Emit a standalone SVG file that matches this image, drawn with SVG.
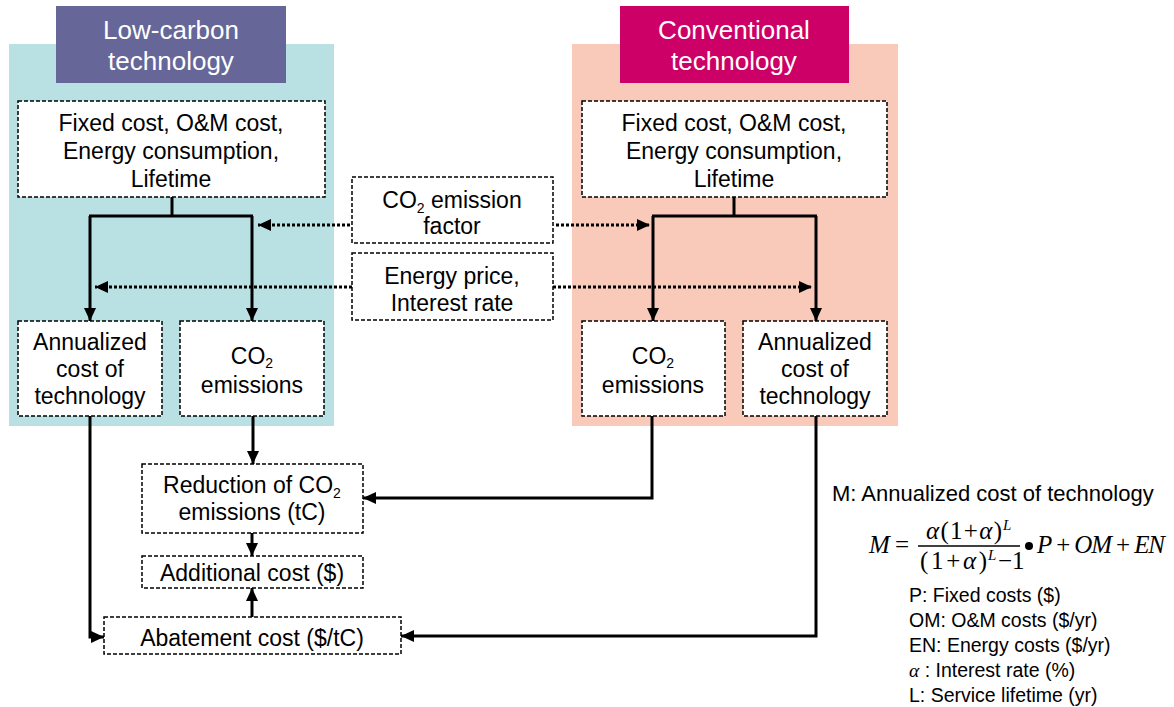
<svg xmlns="http://www.w3.org/2000/svg" width="1174" height="707" viewBox="0 0 1174 707">
<style>
text{font-family:"Liberation Sans",Arial,sans-serif;fill:#000;}
.t{font-size:23px;text-anchor:middle;}
.h{font-size:26px;text-anchor:middle;fill:#fff;}
.box{fill:#fff;stroke:#000;stroke-width:1.5;stroke-dasharray:4 2;}
.sol{fill:none;stroke:#000;stroke-width:3;}
.dot{fill:none;stroke:#000;stroke-width:3;stroke-dasharray:3 2;}
.sub{font-size:14px;}
.m{font-family:"Liberation Serif","Times New Roman",serif;font-size:25px;}
.i{font-style:italic;}
.leg{font-size:19.5px;}
</style>
<defs>
<marker id="ah" markerUnits="userSpaceOnUse" markerWidth="14" markerHeight="14" viewBox="0 0 14 14" refX="13" refY="7" orient="auto">
<path d="M0,1 L13,7 L0,13 Z" fill="#000"/>
</marker>
</defs>
<g id="panels">
<rect x="9" y="44" width="325" height="382" fill="#B9E0E2"/>
<rect x="572" y="44" width="326" height="382" fill="#F9C9B9"/>
</g>
<g id="title-low">
<rect x="56" y="6" width="230" height="77" fill="#666699"/>
<text class="h" x="171" y="39">Low-carbon</text>
<text class="h" x="171" y="70">technology</text>
</g>
<g id="title-conv">
<rect x="620" y="6" width="229" height="77" fill="#CC0066"/>
<text class="h" x="734" y="39">Conventional</text>
<text class="h" x="734" y="70">technology</text>
</g>
<g id="connectors">
<path class="sol" d="M172,197 V216 M89,216 H253"/>
<path class="sol" d="M90,216 V321" marker-end="url(#ah)"/>
<path class="sol" d="M252,216 V321" marker-end="url(#ah)"/>
<path class="sol" d="M734,197 V216 M652,216 H817"/>
<path class="sol" d="M653,216 V321" marker-end="url(#ah)"/>
<path class="sol" d="M816,216 V321" marker-end="url(#ah)"/>
<path class="dot" d="M350,225 H258" marker-end="url(#ah)"/>
<path class="dot" d="M556,225 H650" marker-end="url(#ah)"/>
<path class="dot" d="M352,287 H95" marker-end="url(#ah)"/>
<path class="dot" d="M553,287 H812" marker-end="url(#ah)"/>
<path class="sol" d="M90,416 V637 H104" marker-end="url(#ah)"/>
<path class="sol" d="M253,416 V464" marker-end="url(#ah)"/>
<path class="sol" d="M652,416 V498 H363" marker-end="url(#ah)"/>
<path class="sol" d="M816,416 V636 H401" marker-end="url(#ah)"/>
<path class="sol" d="M252,533 V556" marker-end="url(#ah)"/>
<path class="sol" d="M252,617 V588" marker-end="url(#ah)"/>
</g>
<g id="inputs-low">
<rect class="box" x="18" y="101" width="307" height="96"/>
<text class="t" x="171" y="131">Fixed cost, O&amp;M cost,</text>
<text class="t" x="171" y="159">Energy consumption,</text>
<text class="t" x="171" y="187">Lifetime</text>
</g>
<g id="inputs-conv">
<rect class="box" x="582" y="101" width="305" height="96"/>
<text class="t" x="734" y="131">Fixed cost, O&amp;M cost,</text>
<text class="t" x="734" y="159">Energy consumption,</text>
<text class="t" x="734" y="187">Lifetime</text>
</g>
<g id="co2-factor">
<rect class="box" x="352" y="177" width="201" height="66"/>
<text class="t" x="452" y="208">CO<tspan class="sub" dy="5">2</tspan><tspan dy="-5"> emission</tspan></text>
<text class="t" x="452" y="234">factor</text>
</g>
<g id="energy-price">
<rect class="box" x="352" y="253" width="201" height="67"/>
<text class="t" x="452" y="284">Energy price,</text>
<text class="t" x="452" y="311">Interest rate</text>
</g>
<g id="annual-low">
<rect class="box" x="18" y="321" width="144" height="95"/>
<text class="t" x="90" y="350">Annualized</text>
<text class="t" x="90" y="377">cost of</text>
<text class="t" x="90" y="404">technology</text>
</g>
<g id="co2-low">
<rect class="box" x="180" y="321" width="144" height="95"/>
<text class="t" x="252" y="364">CO<tspan class="sub" dy="4">2</tspan></text>
<text class="t" x="252" y="393">emissions</text>
</g>
<g id="co2-conv">
<rect class="box" x="582" y="321" width="143" height="95"/>
<text class="t" x="653" y="364">CO<tspan class="sub" dy="4">2</tspan></text>
<text class="t" x="653" y="393">emissions</text>
</g>
<g id="annual-conv">
<rect class="box" x="743" y="321" width="144" height="95"/>
<text class="t" x="815" y="350">Annualized</text>
<text class="t" x="815" y="377">cost of</text>
<text class="t" x="815" y="404">technology</text>
</g>
<g id="reduction">
<rect class="box" x="142" y="464" width="221" height="69"/>
<text class="t" x="252" y="493">Reduction of CO<tspan class="sub" dy="5">2</tspan></text>
<text class="t" x="252" y="520">emissions (tC)</text>
</g>
<g id="additional">
<rect class="box" x="142" y="556" width="221" height="32"/>
<text class="t" x="252" y="581">Additional cost ($)</text>
</g>
<g id="abatement">
<rect class="box" x="104" y="617" width="297" height="37"/>
<text class="t" x="252" y="646">Abatement cost ($/tC)</text>
</g>
<g id="formula">
<text x="832" y="501" style="font-size:22px">M: Annualized cost of technology</text>
<text class="m i" x="869" y="553">M</text>
<text class="m" x="895" y="553">=</text>
<text class="m" x="926" y="539" textLength="76" lengthAdjust="spacing"><tspan class="i">α</tspan>(1+<tspan class="i">α</tspan>)</text>
<text class="m i" x="1003" y="530" style="font-size:15px">L</text>
<line x1="918" y1="546" x2="1020" y2="546" stroke="#000" stroke-width="1.3"/>
<text class="m" x="920" y="569" textLength="67" lengthAdjust="spacing">(1+<tspan class="i">α</tspan>)</text>
<text class="m i" x="988" y="560" style="font-size:15px">L</text>
<text class="m" x="998" y="569">−1</text>
<circle cx="1029" cy="546" r="4"/>
<text class="m" x="1037" y="553" textLength="128" lengthAdjust="spacing"><tspan class="i">P</tspan> + <tspan class="i">OM</tspan> + <tspan class="i">EN</tspan></text>
<text class="leg" x="909" y="602">P: Fixed costs ($)</text>
<text class="leg" x="909" y="627">OM: O&amp;M costs ($/yr)</text>
<text class="leg" x="909" y="652">EN: Energy costs ($/yr)</text>
<text class="leg" x="909" y="677"><tspan class="m i" style="font-size:19.5px">α</tspan> : Interest rate (%)</text>
<text class="leg" x="909" y="702">L: Service lifetime (yr)</text>
</g>
</svg>
